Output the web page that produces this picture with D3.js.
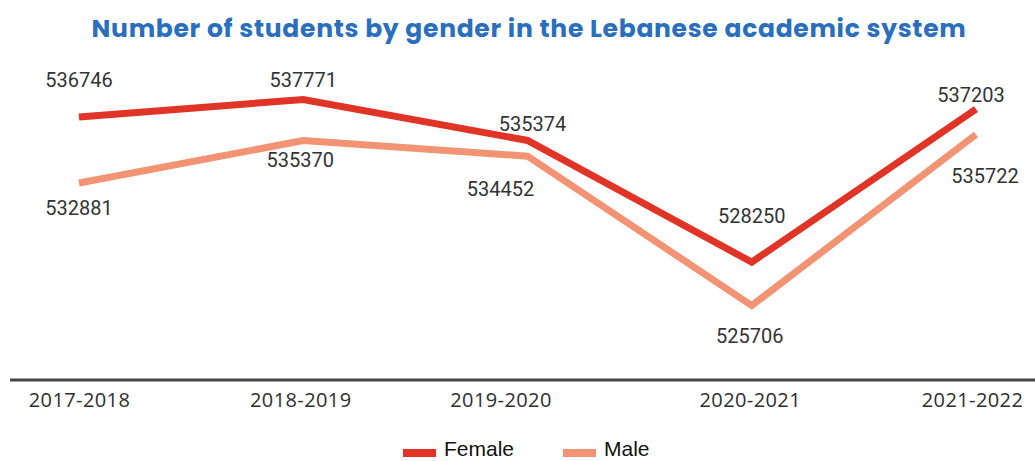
<!DOCTYPE html>
<html>
<head>
<meta charset="utf-8">
<script src="https://cdn.jsdelivr.net/npm/d3@7"></script>
<style>
  html, body { margin: 0; padding: 0; background: #fff; }
  svg { display: block; }
</style>
</head>
<body>
<svg id="chart" width="1035" height="461"></svg>
<script>
// Academic years on the x axis
const years = ["2017-2018", "2018-2019", "2019-2020", "2020-2021", "2021-2022"];
// Student counts per year
const female = [536746, 537771, 535374, 528250, 537203];
const male = [532881, 535370, 534452, 525706, 535722];
const seriesNames = ["Female", "Male"];

const colors = { Female: "#e03426", Male: "#f29473" };
const W = 1035, H = 461;
const svg = d3.select("#chart");

const x = d3.scalePoint().domain(years).range([79, 976]);
const y = d3.scaleLinear().domain([525000, 538000]).range([317.6, 95.6]);

// Title
svg.append("text")
  .attr("x", 529).attr("y", 37)
  .attr("text-anchor", "middle")
  .attr("font-family", "Poppins, 'Open Sans', sans-serif")
  .attr("font-weight", 700)
  .attr("font-size", 25)
  .attr("letter-spacing", 0.7)
  .attr("fill", "#2a6fbd")
  .text("Number of students by gender in the Lebanese academic system");

// Bottom axis: baseline and year labels
const axis = svg.append("g").attr("transform", "translate(0,380)");
axis.call(d3.axisBottom(x).tickSize(0).tickPadding(13));
axis.select(".domain").remove();
axis.append("line")
  .attr("x1", 10).attr("x2", W)
  .attr("stroke", "#444").attr("stroke-width", 3);
axis.selectAll(".tick text")
  .attr("font-family", "'Open Sans', sans-serif")
  .attr("font-size", 20)
  .attr("letter-spacing", 0.4)
  .attr("fill", "#2e2e2e")
  .attr("dx", (d, i) => [0, -3, -27, -2, -4][i]);

const line = d3.line().x((d, i) => x(years[i])).y(d => y(d));

// Per-point label offsets from the line vertex
const series = [
  { name: "Female", values: female, dy: [-37, -20, -16, -46, -14], dx: [0, 0, 5, 0, -5] },
  { name: "Male", values: male, dy: [25, 19, 33, 30, 41], dx: [0, -3, -27, -2, 9] }
];

// Male drawn first so the Female line sits on top
series.slice().reverse().forEach(s => {
  svg.append("path")
    .datum(s.values)
    .attr("d", line)
    .attr("fill", "none")
    .attr("stroke", colors[s.name])
    .attr("stroke-width", 7)
    .attr("stroke-linejoin", "miter");
});

series.forEach(s => {
  svg.append("g").selectAll("text")
    .data(s.values)
    .join("text")
    .attr("x", (d, i) => x(years[i]) + s.dx[i])
    .attr("y", (d, i) => y(d) + s.dy[i])
    .attr("dy", "0.35em")
    .attr("text-anchor", "middle")
    .attr("font-family", "Roboto, 'Liberation Sans', sans-serif")
    .attr("font-size", 20)
    .attr("fill", "#333")
    .text(d => d);
});

// Legend
const legendItems = [
  { name: seriesNames[0], x: 403 },
  { name: seriesNames[1], x: 563 }
];
const legend = svg.append("g");
legendItems.forEach(it => {
  legend.append("rect")
    .attr("x", it.x).attr("y", 449)
    .attr("width", 33).attr("height", 8)
    .attr("fill", colors[it.name]);
  legend.append("text")
    .attr("x", it.x + 41).attr("y", 456)
    .attr("font-family", "'Liberation Sans', Arial, sans-serif")
    .attr("font-size", 21)
    .attr("fill", "#111")
    .text(it.name);
});
</script>
</body>
</html>
